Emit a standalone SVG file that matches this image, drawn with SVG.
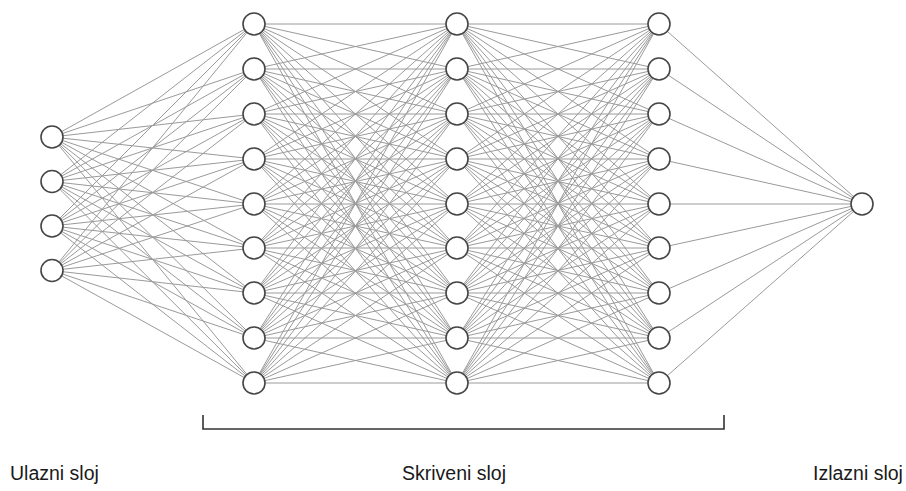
<svg xmlns="http://www.w3.org/2000/svg" width="906" height="491" viewBox="0 0 906 491">
<style>
.e{fill:none;stroke:#9a9a9a;stroke-width:1}
.n{fill:#fff;stroke:#454545;stroke-width:1.6}
.lbl{font-family:"Liberation Sans",Arial,sans-serif;font-size:19.5px;fill:#1a1a1a}
.br{fill:none;stroke:#333;stroke-width:1.6}
</style>
<rect width="906" height="491" fill="#fff"/>
<g id="connectors">
<path class="e" d="M52 137L254 24M52 137L254 69M52 137L254 114M52 137L254 159M52 137L254 204M52 137L254 248M52 137L254 293M52 137L254 338M52 137L254 383M52 181.5L254 24M52 181.5L254 69M52 181.5L254 114M52 181.5L254 159M52 181.5L254 204M52 181.5L254 248M52 181.5L254 293M52 181.5L254 338M52 181.5L254 383M52 226L254 24M52 226L254 69M52 226L254 114M52 226L254 159M52 226L254 204M52 226L254 248M52 226L254 293M52 226L254 338M52 226L254 383M52 270.5L254 24M52 270.5L254 69M52 270.5L254 114M52 270.5L254 159M52 270.5L254 204M52 270.5L254 248M52 270.5L254 293M52 270.5L254 338M52 270.5L254 383"/>
<path class="e" d="M254 24L457 24M254 24L457 69M254 24L457 114M254 24L457 159M254 24L457 204M254 24L457 248M254 24L457 293M254 24L457 338M254 24L457 383M254 69L457 24M254 69L457 69M254 69L457 114M254 69L457 159M254 69L457 204M254 69L457 248M254 69L457 293M254 69L457 338M254 69L457 383M254 114L457 24M254 114L457 69M254 114L457 114M254 114L457 159M254 114L457 204M254 114L457 248M254 114L457 293M254 114L457 338M254 114L457 383M254 159L457 24M254 159L457 69M254 159L457 114M254 159L457 159M254 159L457 204M254 159L457 248M254 159L457 293M254 159L457 338M254 159L457 383M254 204L457 24M254 204L457 69M254 204L457 114M254 204L457 159M254 204L457 204M254 204L457 248M254 204L457 293M254 204L457 338M254 204L457 383M254 248L457 24M254 248L457 69M254 248L457 114M254 248L457 159M254 248L457 204M254 248L457 248M254 248L457 293M254 248L457 338M254 248L457 383M254 293L457 24M254 293L457 69M254 293L457 114M254 293L457 159M254 293L457 204M254 293L457 248M254 293L457 293M254 293L457 338M254 293L457 383M254 338L457 24M254 338L457 69M254 338L457 114M254 338L457 159M254 338L457 204M254 338L457 248M254 338L457 293M254 338L457 338M254 338L457 383M254 383L457 24M254 383L457 69M254 383L457 114M254 383L457 159M254 383L457 204M254 383L457 248M254 383L457 293M254 383L457 338M254 383L457 383"/>
<path class="e" d="M457 24L659 24M457 24L659 69M457 24L659 114M457 24L659 159M457 24L659 204M457 24L659 248M457 24L659 293M457 24L659 338M457 24L659 383M457 69L659 24M457 69L659 69M457 69L659 114M457 69L659 159M457 69L659 204M457 69L659 248M457 69L659 293M457 69L659 338M457 69L659 383M457 114L659 24M457 114L659 69M457 114L659 114M457 114L659 159M457 114L659 204M457 114L659 248M457 114L659 293M457 114L659 338M457 114L659 383M457 159L659 24M457 159L659 69M457 159L659 114M457 159L659 159M457 159L659 204M457 159L659 248M457 159L659 293M457 159L659 338M457 159L659 383M457 204L659 24M457 204L659 69M457 204L659 114M457 204L659 159M457 204L659 204M457 204L659 248M457 204L659 293M457 204L659 338M457 204L659 383M457 248L659 24M457 248L659 69M457 248L659 114M457 248L659 159M457 248L659 204M457 248L659 248M457 248L659 293M457 248L659 338M457 248L659 383M457 293L659 24M457 293L659 69M457 293L659 114M457 293L659 159M457 293L659 204M457 293L659 248M457 293L659 293M457 293L659 338M457 293L659 383M457 338L659 24M457 338L659 69M457 338L659 114M457 338L659 159M457 338L659 204M457 338L659 248M457 338L659 293M457 338L659 338M457 338L659 383M457 383L659 24M457 383L659 69M457 383L659 114M457 383L659 159M457 383L659 204M457 383L659 248M457 383L659 293M457 383L659 338M457 383L659 383"/>
<path class="e" d="M659 24L862 204M659 69L862 204M659 114L862 204M659 159L862 204M659 204L862 204M659 248L862 204M659 293L862 204M659 338L862 204M659 383L862 204"/>
</g>
<g id="input-layer">
<circle class="n" cx="52" cy="137" r="11"/>
<circle class="n" cx="52" cy="181.5" r="11"/>
<circle class="n" cx="52" cy="226" r="11"/>
<circle class="n" cx="52" cy="270.5" r="11"/>
</g>
<g id="hidden-layer-1">
<circle class="n" cx="254" cy="24" r="11"/>
<circle class="n" cx="254" cy="69" r="11"/>
<circle class="n" cx="254" cy="114" r="11"/>
<circle class="n" cx="254" cy="159" r="11"/>
<circle class="n" cx="254" cy="204" r="11"/>
<circle class="n" cx="254" cy="248" r="11"/>
<circle class="n" cx="254" cy="293" r="11"/>
<circle class="n" cx="254" cy="338" r="11"/>
<circle class="n" cx="254" cy="383" r="11"/>
</g>
<g id="hidden-layer-2">
<circle class="n" cx="457" cy="24" r="11"/>
<circle class="n" cx="457" cy="69" r="11"/>
<circle class="n" cx="457" cy="114" r="11"/>
<circle class="n" cx="457" cy="159" r="11"/>
<circle class="n" cx="457" cy="204" r="11"/>
<circle class="n" cx="457" cy="248" r="11"/>
<circle class="n" cx="457" cy="293" r="11"/>
<circle class="n" cx="457" cy="338" r="11"/>
<circle class="n" cx="457" cy="383" r="11"/>
</g>
<g id="hidden-layer-3">
<circle class="n" cx="659" cy="24" r="11"/>
<circle class="n" cx="659" cy="69" r="11"/>
<circle class="n" cx="659" cy="114" r="11"/>
<circle class="n" cx="659" cy="159" r="11"/>
<circle class="n" cx="659" cy="204" r="11"/>
<circle class="n" cx="659" cy="248" r="11"/>
<circle class="n" cx="659" cy="293" r="11"/>
<circle class="n" cx="659" cy="338" r="11"/>
<circle class="n" cx="659" cy="383" r="11"/>
</g>
<g id="output-layer">
<circle class="n" cx="862" cy="204" r="11"/>
</g>
<g id="bracket">
<path class="br" d="M203 415V429H724V415"/>
</g>
<g id="labels">
<text class="lbl" x="10" y="480">Ulazni sloj</text>
<text class="lbl" x="402" y="480">Skriveni sloj</text>
<text class="lbl" x="813" y="480">Izlazni sloj</text>
</g>
</svg>
